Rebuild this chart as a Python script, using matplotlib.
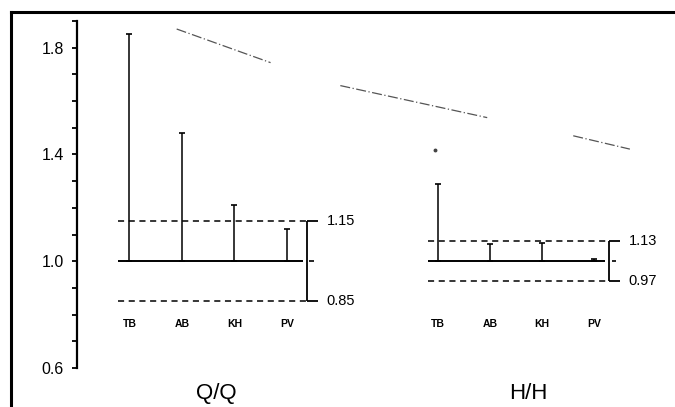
import numpy as np
import matplotlib
matplotlib.use("Agg")
import matplotlib.pyplot as plt

plt.rcParams["font.family"] = ["Liberation Sans", "DejaVu Sans"]

# datos
categorias = ["TB", "AB", "KH", "PV"]
qq_max = [1.85, 1.48, 1.21, 1.12]
hh_max = [1.29, 1.065, 1.07, 1.01]
qq_limites = [1.15, 0.85]
hh_limites = [1.075, 0.925]
qq_etiquetas = ["1.15", "0.85"]
hh_etiquetas = ["1.13", "0.97"]
y_ticks = np.round(np.arange(0.6, 1.91, 0.1), 1)
y_labels = {0.6: "0.6", 1.0: "1.0", 1.4: "1.4", 1.8: "1.8"}

# curva punteada de fondo (trazos visibles)
curva_x = [0.9, 2.69, np.nan, 4.02, 6.82, np.nan, 8.46, 9.54]
curva_y = [1.87, 1.744, np.nan, 1.658, 1.538, np.nan, 1.47, 1.42]

q_pos = np.arange(4)
h_pos = 5.88 + np.arange(4) * 0.99

fig = plt.figure(figsize=(6.75, 4.07), dpi=100)

# marco escaneado (izquierda y arriba)
frame = fig.add_axes([11 / 675, 0, 1 - 11 / 675, 1 - 12 / 407])
frame.set_xticks([])
frame.set_yticks([])
frame.patch.set_alpha(0)
for s in ["right", "bottom"]:
    frame.spines[s].set_visible(False)
frame.spines["left"].set_linewidth(2.2)
frame.spines["top"].set_linewidth(2.2)

ax = fig.add_axes([77 / 675, 39 / 407, 1 - 77 / 675, 347 / 407])
ax.patch.set_alpha(0)
ax.set_xlim(-1, 10.4)
ax.set_ylim(0.6, 1.9)
for s in ["right", "top", "bottom"]:
    ax.spines[s].set_visible(False)
ax.spines["left"].set_linewidth(1.6)
ax.set_xticks([])
ax.set_yticks(y_ticks)
ax.set_yticklabels([y_labels.get(float(t), "") for t in y_ticks], fontsize=11.5)
ax.tick_params(axis="y", length=3.5, width=1.3, pad=6)


def grupo(pos, maximos, limites, etiquetas, x0, x1, xb):
    base = np.ones(len(pos))
    ax.hlines(1.0, x0, x1 - 0.05, color="black", lw=1.4)
    ax.hlines(limites, x0, xb, color="black", lw=1.1, linestyles=(0, (4, 3)))
    ax.errorbar(pos, base, yerr=[np.zeros(len(pos)), np.array(maximos) - 1.0],
                fmt="none", ecolor="black", elinewidth=1.1, capsize=2.5, capthick=1.2)
    # corchete
    ax.vlines(xb, limites[1], limites[0], color="black", lw=1.3)
    ax.hlines(limites, xb, xb + 0.22, color="black", lw=1.3)
    ax.hlines(1.0, xb + 0.05, xb + 0.14, color="black", lw=1.2)
    for v, t in zip(limites, etiquetas):
        ax.text(xb + 0.38, v, t, fontsize=10.5, ha="left", va="center")
    for p, c in zip(pos, categorias):
        ax.text(p, 0.765, c, fontsize=7.5, fontweight="bold", ha="center", va="center")


grupo(q_pos, qq_max, qq_limites, qq_etiquetas, -0.22, 3.35, 3.38)
grupo(h_pos, hh_max, hh_limites, hh_etiquetas, 5.7, 9.12, 9.14)

ax.text(1.66, 0.505, "Q/Q", fontsize=16, ha="center", va="center")
ax.text(7.6, 0.505, "H/H", fontsize=16, ha="center", va="center")

ax.plot(curva_x, curva_y, color="#555555", lw=0.9, linestyle=(0, (8, 2, 1, 2)))
ax.plot([5.83], [1.416], marker="o", ms=1.8, color="#444444")

fig.savefig("out.png", dpi=100)
